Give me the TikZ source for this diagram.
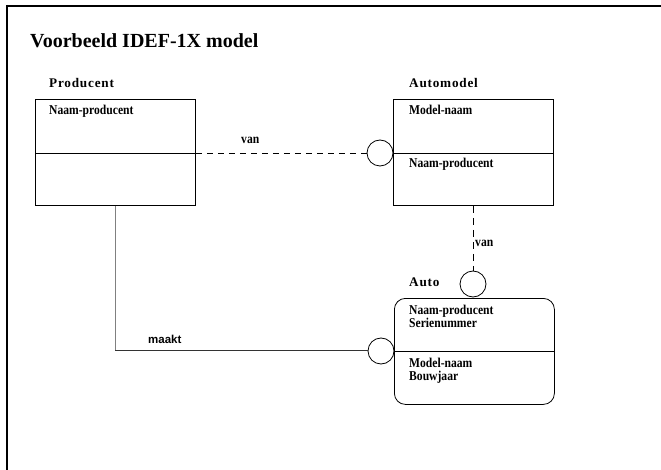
\documentclass[tikz,border=0pt]{standalone}
\usepackage{fontspec}
\setmainfont{Liberation Serif}
\newfontfamily\entfont[LetterSpace=6]{Liberation Serif}
\newfontfamily\attrfont[FakeStretch=0.86]{Liberation Serif}
\newfontfamily\relfont{Liberation Sans}
\begin{document}
\begin{tikzpicture}[x=1pt,y=-1pt,
  entbox/.style={draw, line width=0.8pt, minimum width=160pt, minimum height=106pt, anchor=north west, inner sep=0pt},
  relcirc/.style={draw, circle, line width=0.8pt, minimum size=26pt, inner sep=0pt, fill=white},
  lbl/.style={font=\attrfont\bfseries\fontsize{13.5}{13}\selectfont, anchor=base west, inner sep=0pt},
  entname/.style={font=\entfont\bfseries\fontsize{13.2}{13}\selectfont, anchor=base west, inner sep=0pt},
  rellbl/.style={font=\relfont\bfseries\fontsize{11.5}{13}\selectfont, anchor=base west, inner sep=0pt},
  rel/.style={line width=0.8pt},
  idrel/.style={line width=0.8pt, dash pattern=on 6pt off 5pt}]
\useasboundingbox (0,0) rectangle (661,470);
% frame
\draw[line width=1.8pt] (7,6) -- (661,6);
\draw[line width=1.4pt] (7,5) -- (7,470);
\node[font=\bfseries\fontsize{20}{22}\selectfont, anchor=base west, inner sep=0pt] (title) at (30,48) {Voorbeeld IDEF-1X model};
% Producent
\node[entname] (lprod) at (49,88) {Producent};
\node[entbox] (prod) at (35,99) {};
\draw[line width=0.8pt] (prod.west |- 0,153) -- (prod.east |- 0,153);
\node[lbl] (prodk) at (49,115) {Naam-producent};
% Automodel
\node[entname] (lam) at (409,88) {Automodel};
\node[entbox] (am) at (393,99) {};
\draw[line width=0.8pt] (am.west |- 0,153) -- (am.east |- 0,153);
\node[lbl] (amk) at (409,115) {Model-naam};
\node[lbl] (amf) at (409,168) {Naam-producent};
% Auto
\node[entname] (lauto) at (409,287) {Auto};
\node[entbox, rounded corners=11pt] (auto) at (394,298) {};
\draw[line width=0.8pt] (auto.west |- 0,351) -- (auto.east |- 0,351);
\node[lbl] (autok1) at (409,314) {Naam-producent};
\node[lbl] (autok2) at (409,327) {Serienummer};
\node[lbl] (autof1) at (409,367) {Model-naam};
\node[lbl] (autof2) at (409,380) {Bouwjaar};
% relationship circles
\node[relcirc] (c1) at (380,153) {};
\node[relcirc] (c2) at (473,284) {};
\node[relcirc] (c3) at (381,351) {};
% relationships
\draw[idrel] (prod.east |- c1) -- (c1.west);
\node[lbl] (van1) at (241,144) {van};
\draw[idrel, dash pattern=on 7pt off 5pt] (am.south -| c2) -- (c2.north);
\node[lbl] (van2) at (475,247) {van};
\coordinate (bend) at (115,350);
\draw[rel, gray] (prod.south -| bend) -- (bend);
\draw[rel, black!80] (bend) -- (c3.west |- bend);
\node[rellbl] (maakt) at (148,343) {maakt};
\end{tikzpicture}
\end{document}
